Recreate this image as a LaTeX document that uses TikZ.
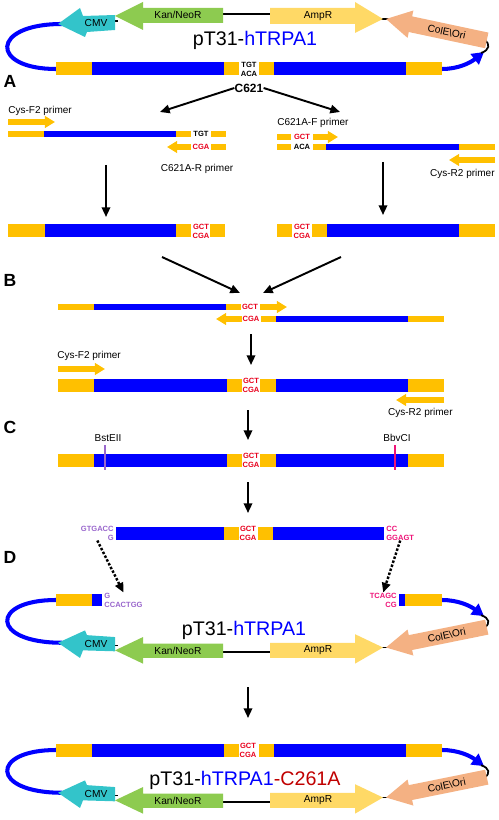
\documentclass[tikz,border=0pt]{standalone}
\usepackage{fontspec}
\setmainfont{Liberation Sans}
\usetikzlibrary{arrows.meta}
\definecolor{orCol}{HTML}{FFC000}
\definecolor{blCol}{HTML}{0000FF}
\definecolor{cmvCol}{HTML}{33C4CA}
\definecolor{kanCol}{HTML}{8DCB50}
\definecolor{ampCol}{HTML}{FFD966}
\definecolor{oriCol}{HTML}{F4B183}
\definecolor{mutCol}{HTML}{E8001C}
\definecolor{bstCol}{HTML}{9966CC}
\definecolor{bbvCol}{HTML}{EE1478}
\definecolor{titleRed}{HTML}{C00000}
\tikzset{
  bbline/.style={blCol, line width=2.3pt},
  link/.style={black, line width=1pt},
  conn/.style={-{Triangle[length=5.5pt,width=4.8pt]}, line width=1.1pt},
  cutconn/.style={-{Triangle[length=5.5pt,width=4.8pt]}, line width=1.4pt, densely dotted},
  primer/.style={orCol, line width=3.3pt, -{Triangle[length=5.8pt,width=6.6pt]}},
  lbl/.style={font=\fontsize{5.7}{6.5}\selectfont, inner sep=0pt},
  featlbl/.style={font=\fontsize{5.8}{6.5}\selectfont, inner sep=0pt},
  codon/.style={font=\fontsize{4.3}{5.1}\selectfont\bfseries, align=center, inner sep=0pt},
  panel/.style={font=\fontsize{10}{12}\selectfont\bfseries, inner sep=0pt},
  ptitle/.style={font=\fontsize{11.2}{13}\selectfont, inner sep=0pt},
}
% bar pieces: y, height, list of x1/x2/colour
\newcommand{\genebar}[3]{%
  \foreach \xa/\xb/\cc in {#3}{\fill[\cc] (\xa,{#1-#2/2}) rectangle (\xb,{#1+#2/2});}}
% plasmid backbone: bar y, yscale, label angle, name prefix
\newcommand{\backbone}[4]{%
  \begin{scope}[shift={(0,#1)}, yscale=#2]
    \draw[bbline] (56,0) .. controls (-10,0) and (-10,-45) .. (62,-45);
    \draw[bbline, -{Triangle[length=6.8pt,width=7.4pt]}] (442,0) .. controls (458,0) and (470,-6) .. (484,-17);
    \draw[link] (481,-16) .. controls (490,-19) and (490,-25) .. (485,-29);
    \draw[link] (223,-55) -- (270,-55);
    \draw[link] (112,-48) -- (118,-48);
    \draw[link] (381,-50) -- (389,-50);
    \fill[cmvCol] (58,-45) -- (80,-61) -- (83,-53) -- (115,-54) -- (115,-39) -- (87,-37) -- (85,-32) -- cycle;
    \fill[kanCol] (115,-53) -- (143,-67) -- (143,-61) -- (223,-61) -- (223,-46) -- (143,-46) -- (143,-39) -- cycle;
    \fill[ampCol] (270,-61) -- (355,-61) -- (355,-67) -- (383,-50) -- (355,-36) -- (355,-45) -- (270,-45) -- cycle;
    \begin{scope}[shift={(386,-50)}, rotate=-12]
      \fill[oriCol] (0,0) -- (25,-14) -- (25,-8) -- (103,-8) -- (103,8) -- (25,8) -- (25,14) -- cycle;
      \node[featlbl, rotate=#3] (#4ori) at (62,0) {ColE\textbackslash Ori};
    \end{scope}
    \node[featlbl] (#4cmv) at (96,-46) {CMV};
    \node[featlbl] (#4kan) at (178,-54) {Kan/NeoR};
    \node[featlbl] (#4amp) at (318,-53) {AmpR};
  \end{scope}}

\begin{document}
\begin{tikzpicture}[x=0.02cm, y=-0.02cm]
  \useasboundingbox (0,0) rectangle (498,820);

  % wild-type plasmid
  \backbone{69}{1}{-12}{top}
  \genebar{69}{13}{56/92/orCol, 92/224/blCol, 224/239/orCol, 259/274/orCol, 274/406/blCol, 406/442/orCol}
  \node[codon] (wtTop) at (249,69) {TGT\\ACA};
  \node[ptitle] (tTop) at (255,40) {pT31-\textcolor{blCol}{hTRPA1}};

  % A: two PCRs
  \node[panel] (pA) at (10,81) {A};
  \node[font=\fontsize{6.8}{8}\selectfont\bfseries, inner sep=0pt] (c621) at (249,88) {C621};
  \coordinate (splitL) at (160,112);
  \coordinate (splitR) at (340,112);
  \draw[conn] (c621.west) -- (splitL);
  \draw[conn] (c621.east) -- (splitR);

  \node[lbl, anchor=west] (cysFa) at (8,111) {Cys-F2 primer};
  \draw[primer] (8,122) -- (55,122);
  \genebar{134}{6}{8/44/orCol, 44/176/blCol, 176/191/orCol, 211/226/orCol}
  \node[codon] (tgtL) at (201,134) {TGT};
  \draw[primer] (191,147) -- (167,147);
  \genebar{147}{6}{211/226/orCol}
  \node[codon, text=mutCol] (cgaL) at (201,147) {CGA};
  \node[lbl] (mutRp) at (197,169) {C621A-R primer};

  \node[lbl, anchor=west] (mutFp) at (277,123) {C621A-F primer};
  \genebar{137}{6}{277/291/orCol}
  \node[codon, text=mutCol] (gctR) at (302,137) {GCT};
  \draw[primer] (313,137) -- (338,137);
  \genebar{147}{6}{277/291/orCol, 313/326/orCol, 326/459/blCol, 459/495/orCol}
  \node[codon] (acaR) at (302,147) {ACA};
  \draw[primer] (495,160) -- (449,160);
  \node[lbl, anchor=east] (cysRa) at (495,174) {Cys-R2 primer};

  \coordinate (pcrL0) at (106,165); \coordinate (pcrL1) at (106,217);
  \coordinate (pcrR0) at (383,162); \coordinate (pcrR1) at (383,215);
  \draw[conn] (pcrL0) -- (pcrL1);
  \draw[conn] (pcrR0) -- (pcrR1);

  \genebar{231}{13}{8/45/orCol, 45/176/blCol, 176/191/orCol, 210/225/orCol, 277/292/orCol, 312/327/orCol, 327/459/blCol, 459/495/orCol}
  \node[codon, text=mutCol] (mutL) at (201,231) {GCT\\CGA};
  \node[codon, text=mutCol] (mutR) at (302,231) {GCT\\CGA};

  % B: overlap extension
  \coordinate (joinL0) at (162,257); \coordinate (joinL1) at (240,293);
  \coordinate (joinR0) at (341,257); \coordinate (joinR1) at (263,293);
  \draw[conn] (joinL0) -- (joinL1);
  \draw[conn] (joinR0) -- (joinR1);
  \node[panel] (pB) at (10,280) {B};
  \genebar{307}{6}{58/94/orCol, 94/226/blCol, 226/241/orCol}
  \node[codon, text=mutCol] (gctB) at (250,307) {GCT};
  \draw[primer] (260,307) -- (287,307);
  \draw[primer] (242,319) -- (216,319);
  \node[codon, text=mutCol] (cgaB) at (251,319) {CGA};
  \genebar{319}{6}{261/276/orCol, 276/408/blCol, 408/444/orCol}

  \coordinate (ovl0) at (251,334); \coordinate (ovl1) at (251,365);
  \draw[conn] (ovl0) -- (ovl1);
  \node[lbl, anchor=west] (cysFb) at (57,356) {Cys-F2 primer};
  \draw[primer] (58,369) -- (105,369);
  \genebar{385}{13}{58/94/orCol, 94/227/blCol, 227/242/orCol, 260/276/orCol, 276/408/blCol, 408/444/orCol}
  \node[codon, text=mutCol] (mutB) at (251,385) {GCT\\CGA};
  \draw[primer] (444,400) -- (396,400);
  \node[lbl, anchor=east] (cysRb) at (453,413) {Cys-R2 primer};

  % C: digestion
  \node[panel] (pC) at (10,427) {C};
  \coordinate (fullA) at (248,410); \coordinate (fullB) at (248,440);
  \draw[conn] (fullA) -- (fullB);
  \node[lbl] (bst) at (108,438) {BstEII};
  \node[lbl] (bbv) at (397,438) {BbvCI};
  \genebar{460}{13}{58/94/orCol, 94/227/blCol, 227/242/orCol, 260/276/orCol, 276/408/blCol, 408/444/orCol}
  \node[codon, text=mutCol] (mutC) at (251,460) {GCT\\CGA};
  \draw[bstCol, line width=1.2pt] (105,445) -- (105,470);
  \draw[bbvCol, line width=1.2pt] (395,445) -- (395,470);

  \coordinate (cutA) at (248,482); \coordinate (cutB) at (248,513);
  \draw[conn] (cutA) -- (cutB);
  \genebar{533}{13}{116/224/blCol, 224/239/orCol, 258/273/orCol, 273/384/blCol}
  \node[codon, text=mutCol] (mutD) at (248,533) {GCT\\CGA};
  \node[codon, text=bstCol, align=right, anchor=east] (endL) at (114,533) {GTGACC\\G};
  \node[codon, text=bbvCol, align=left, anchor=west] (endR) at (386,533) {CC\\GGAGT};

  % D: ligation
  \node[panel] (pD) at (10,557) {D};
  \backbone{600}{-0.95}{12}{mid}
  \genebar{600}{12}{56/92/orCol, 92/102/blCol, 399/405/blCol, 405/442/orCol}
  \node[codon, text=bstCol, align=left, anchor=west] (stickL) at (104,600) {G\\CCACTGG};
  \node[codon, text=bbvCol, align=right, anchor=east] (stickR) at (397,600) {TCAGC\\CG};
  \draw[cutconn] (endL.south) -- (stickL.north);
  \draw[cutconn] (endR.south) -- (stickR.north);
  \node[ptitle] (tMid) at (244,630) {pT31-\textcolor{blCol}{hTRPA1}};

  \coordinate (ligA) at (248,687); \coordinate (ligB) at (248,718);
  \draw[conn] (ligA) -- (ligB);

  % mutant plasmid
  \backbone{750}{-0.95}{12}{bot}
  \genebar{750}{13}{56/92/orCol, 92/224/blCol, 224/239/orCol, 259/274/orCol, 274/406/blCol, 406/442/orCol}
  \node[codon, text=mutCol] (mutBot) at (248,750) {GCT\\CGA};
  \node[ptitle] (tBot) at (245,780) {pT31-\textcolor{blCol}{hTRPA1}\textcolor{titleRed}{-C261A}};
\end{tikzpicture}
\end{document}
